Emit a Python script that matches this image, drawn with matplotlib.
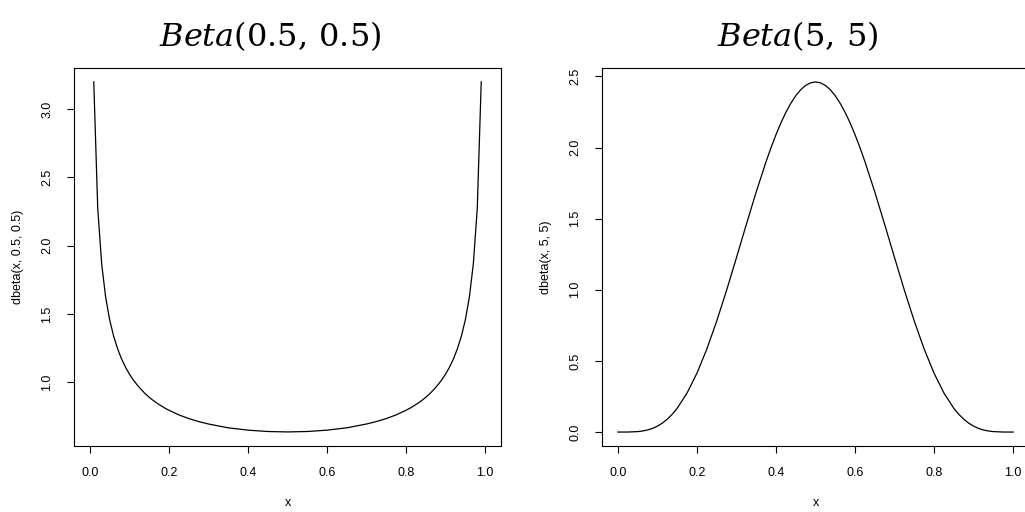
import matplotlib
matplotlib.use('Agg')
import matplotlib.pyplot as plt

plt.rcParams['font.family'] = ['Liberation Sans', 'DejaVu Sans']
plt.rcParams['mathtext.fontset'] = 'dejavuserif'

# Beta(0.5, 0.5) curve
x_a = [0.01, 0.02, 0.03, 0.04, 0.05, 0.06, 0.07, 0.08, 0.09, 0.10,
       0.11, 0.12, 0.13, 0.14, 0.15, 0.16, 0.17, 0.18, 0.19, 0.20,
       0.225, 0.25, 0.275, 0.30, 0.35, 0.40, 0.45, 0.50, 0.55, 0.60, 0.65, 0.70, 0.725, 0.75, 0.775,
       0.80, 0.81, 0.82, 0.83, 0.84, 0.85, 0.86, 0.87, 0.88, 0.89,
       0.90, 0.91, 0.92, 0.93, 0.94, 0.95, 0.96, 0.97, 0.98, 0.99]
y_a = [3.199, 2.274, 1.866, 1.624, 1.460, 1.340, 1.248, 1.173, 1.112, 1.061,
       1.017, 0.980, 0.947, 0.917, 0.891, 0.868, 0.847, 0.829, 0.811, 0.796,
       0.762, 0.735, 0.713, 0.695, 0.667, 0.650, 0.640, 0.637, 0.640, 0.650, 0.667, 0.695, 0.713, 0.735, 0.762,
       0.796, 0.811, 0.829, 0.847, 0.868, 0.891, 0.917, 0.947, 0.980, 1.017,
       1.061, 1.112, 1.173, 1.248, 1.340, 1.460, 1.624, 1.866, 2.274, 3.199]

# Beta(5, 5) curve
x_b = [0.0, 0.025, 0.05, 0.0625, 0.075, 0.0875, 0.1, 0.1125, 0.125, 0.1375, 0.15, 0.175,
       0.2, 0.225, 0.25, 0.275, 0.3, 0.325, 0.35, 0.375, 0.3875, 0.4, 0.4125, 0.425,
       0.4375, 0.45, 0.4625, 0.475, 0.4875, 0.5, 0.5125, 0.525, 0.5375, 0.55, 0.5625,
       0.575, 0.5875, 0.6, 0.6125, 0.625, 0.65, 0.675, 0.7, 0.725, 0.75, 0.775, 0.8,
       0.825, 0.85, 0.8625, 0.875, 0.8875, 0.9, 0.9125, 0.925, 0.9375, 0.95, 0.975, 1.0]
y_b = [0.0, 0.0002, 0.0032, 0.0074, 0.0146, 0.0256, 0.0413, 0.0626, 0.0902, 0.1246, 0.1665, 0.2737,
       0.4129, 0.5825, 0.7787, 0.9954, 1.2252, 1.4591, 1.6876, 1.9010, 1.9992, 2.0902, 2.1731, 2.2468,
       2.3107, 2.3639, 2.4060, 2.4364, 2.4548, 2.4609, 2.4548, 2.4364, 2.4060, 2.3639, 2.3107,
       2.2468, 2.1731, 2.0902, 1.9992, 1.9010, 1.6876, 1.4591, 1.2252, 0.9954, 0.7787, 0.5825, 0.4129,
       0.2737, 0.1665, 0.1246, 0.0902, 0.0626, 0.0413, 0.0256, 0.0146, 0.0074, 0.0032, 0.0002, 0.0]

titles = [r'$Beta(0.5,\,0.5)$', r'$Beta(5,\,5)$']
ylabels = ['dbeta(x, 0.5, 0.5)', 'dbeta(x, 5, 5)']
xticks = [0.0, 0.2, 0.4, 0.6, 0.8, 1.0]
yticks_a = [1.0, 1.5, 2.0, 2.5, 3.0]
yticks_b = [0.0, 0.5, 1.0, 1.5, 2.0, 2.5]

fig = plt.figure(figsize=(10.25, 5.12), dpi=100)
ax1 = fig.add_axes([74/1025, 66/512, 427/1025, 378/512])
ax2 = fig.add_axes([602/1025, 66/512, 427/1025, 378/512])

ax1.plot(x_a, y_a, color='black', linewidth=0.9)
ax2.plot(x_b, y_b, color='black', linewidth=0.9)

ax1.set_xlim(-0.04, 1.04)
ax1.set_ylim(0.534, 3.30)
ax2.set_xlim(-0.04, 1.04)
ax2.set_ylim(-0.098, 2.559)

for ax, yt, lab in [(ax1, yticks_a, ylabels[0]), (ax2, yticks_b, ylabels[1])]:
    ax.set_xticks(xticks)
    ax.set_xticklabels(['%.1f' % v for v in xticks])
    ax.set_yticks(yt)
    ax.set_yticklabels(['%.1f' % v for v in yt])
    for s in ax.spines.values():
        s.set_linewidth(0.8)
    ax.tick_params(axis='both', direction='out', length=5, width=0.8, labelsize=9)
    ax.tick_params(axis='x', pad=10)
    ax.tick_params(axis='y', pad=10, labelrotation=90)
    for t in ax.get_yticklabels():
        t.set_va('center')
    ax.set_xlabel('x', fontsize=9)
    ax.xaxis.set_label_coords(0.5, -0.151)
    ax.xaxis.label.set_va('center')
    ax.set_ylabel(lab, fontsize=9)
    ax.yaxis.set_label_coords(-0.132, 0.5)
    ax.yaxis.label.set_va('center')

fig.text(270/1025, 1 - 36/512, titles[0], fontsize=23, ha='center', va='center')
fig.text(798/1025, 1 - 36/512, titles[1], fontsize=23, ha='center', va='center')

fig.savefig('out.png', dpi=100)
